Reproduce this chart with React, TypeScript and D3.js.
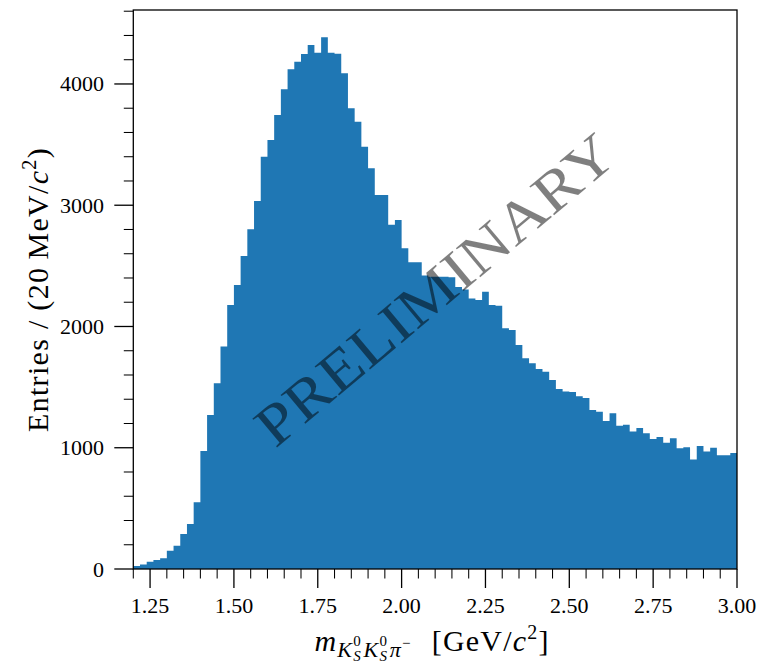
import React from "react";
import * as d3 from "d3";

const binStart = 1.2;
const binWidth = 0.02;
const counts = [
  25, 38, 60, 74, 88, 151, 192, 289, 371, 550,
  973, 1270, 1531, 1834, 2177, 2342, 2581, 2801, 3035, 3400,
  3538, 3744, 3956, 4121, 4184, 4247, 4322, 4258, 4385, 4258,
  4250, 4088, 3800, 3689, 3483, 3304, 3085, 3085, 2840, 2878,
  2645, 2530, 2530, 2420, 2411, 2411, 2411, 2405, 2325, 2305,
  2230, 2219, 2287, 2177, 2170, 1985, 1971, 1847, 1738, 1696,
  1650, 1627, 1559, 1485, 1463, 1460, 1425, 1410, 1311, 1297,
  1220, 1284, 1182, 1190, 1133, 1163, 1119, 1072, 1089, 1042,
  1078, 995, 1005, 903, 1014, 968, 1000, 938, 938, 957,
];
const xMajorTicks = [1.25, 1.5, 1.75, 2.0, 2.25, 2.5, 2.75, 3.0];
const xTickLabels = ["1.25", "1.50", "1.75", "2.00", "2.25", "2.50", "2.75", "3.00"];
const yMajorTicks = [0, 1000, 2000, 3000, 4000];
const yTickLabels = ["0", "1000", "2000", "3000", "4000"];
const watermark = "PRELIMINARY";

const FONT = "'Liberation Serif', 'Times New Roman', serif";

export default function App() {
  const W = 760;
  const H = 669;
  const left = 133.3, right = 737, top = 10, bottom = 569;
  const x = d3.scaleLinear().domain([1.2, 3.0]).range([left, right]);
  const y = d3.scaleLinear().domain([0, 4610]).range([bottom, top]);

  const pts = counts.map((c, i) => ({ e: binStart + i * binWidth, c }));
  pts.push({ e: binStart + counts.length * binWidth, c: counts[counts.length - 1] });
  const area = d3
    .area<{ e: number; c: number }>()
    .x((d) => x(d.e))
    .y0(y(0))
    .y1((d) => y(d.c))
    .curve(d3.curveStepAfter);

  const xMinor = d3.range(0, 37).map((i) => 1.2 + i * 0.05).filter(
    (v) => !xMajorTicks.some((t) => Math.abs(t - v) < 1e-6)
  );
  const yMinor = d3.range(0, 24).map((i) => i * 200).filter(
    (v) => v % 1000 !== 0 && v <= 4610
  );

  const majorLen = 19;
  const minorLen = 9.5;
  const tickW = 1.3;

  return (
    <svg width={W} height={H} style={{ position: "absolute", left: 0, top: 0 }} fontFamily={FONT}>
      <rect x={0} y={0} width={W} height={H} fill="#fff" />
      <path d={area(pts) || ""} fill="#1f77b4" />

      {/* ticks */}
      {xMinor.map((v, i) => (
        <line key={"xm" + i} x1={x(v)} x2={x(v)} y1={bottom} y2={bottom + minorLen} stroke="#000" strokeWidth={tickW * 0.8} />
      ))}
      {xMajorTicks.map((v, i) => (
        <g key={"xM" + i}>
          <line x1={x(v)} x2={x(v)} y1={bottom} y2={bottom + majorLen} stroke="#000" strokeWidth={tickW} />
          <text x={x(v)} y={613} textAnchor="middle" fontSize={22} fill="#000">{xTickLabels[i]}</text>
        </g>
      ))}
      {yMinor.map((v, i) => (
        <line key={"ym" + i} x1={left - minorLen} x2={left} y1={y(v)} y2={y(v)} stroke="#000" strokeWidth={tickW * 0.8} />
      ))}
      {yMajorTicks.map((v, i) => (
        <g key={"yM" + i}>
          <line x1={left - majorLen} x2={left} y1={y(v)} y2={y(v)} stroke="#000" strokeWidth={tickW} />
          <text x={104} y={y(v) + 7.5} textAnchor="end" fontSize={22} fill="#000">{yTickLabels[i]}</text>
        </g>
      ))}

      {/* frame */}
      <rect x={left} y={top} width={right - left} height={bottom - top} fill="none" stroke="#000" strokeWidth={1.3} />

      {/* watermark */}
      <text
        transform={`translate(${(left + right) / 2},${(top + bottom) / 2}) rotate(-40)`}
        textAnchor="middle"
        dominantBaseline="central"
        fontSize={58}
        fill="#000"
        fillOpacity={0.5}
        textLength={450}
        lengthAdjust="spacingAndGlyphs"
      >
        {watermark}
      </text>

      {/* y label */}
      <text transform={`translate(48,${(top + bottom) / 2}) rotate(-90)`} textAnchor="middle" fontSize={30} letterSpacing={1.3} fill="#000">
        <tspan>Entries / (20{"\u2009"}MeV/</tspan>
        <tspan fontStyle="italic">c</tspan>
        <tspan fontSize={20} dy={-12}>2</tspan>
        <tspan dy={12}>)</tspan>
      </text>

      {/* x label */}
      <text x={432} y={651} textAnchor="middle" fontSize={30} letterSpacing={1.2} fill="#000">
        <tspan fontStyle="italic">m</tspan>
        <tspan fontSize={22} fontStyle="italic" dy={6}>K</tspan>
        <tspan fontSize={15} fontStyle="italic" dy={4}>S</tspan>
        <tspan fontSize={15} dx={-8.5} dy={-15}>0</tspan>
        <tspan fontSize={22} fontStyle="italic" dx={1.5} dy={11}>K</tspan>
        <tspan fontSize={15} fontStyle="italic" dy={4}>S</tspan>
        <tspan fontSize={15} dx={-8.5} dy={-15}>0</tspan>
        <tspan fontSize={22} fontStyle="italic" dx={1.5} dy={11}>π</tspan>
        <tspan fontSize={15} dy={-9}>−</tspan>
        <tspan dy={3} dx={20}>[GeV/</tspan>
        <tspan fontStyle="italic">c</tspan>
        <tspan fontSize={20} dy={-12}>2</tspan>
        <tspan dy={12}>]</tspan>
      </text>
    </svg>
  );
}
